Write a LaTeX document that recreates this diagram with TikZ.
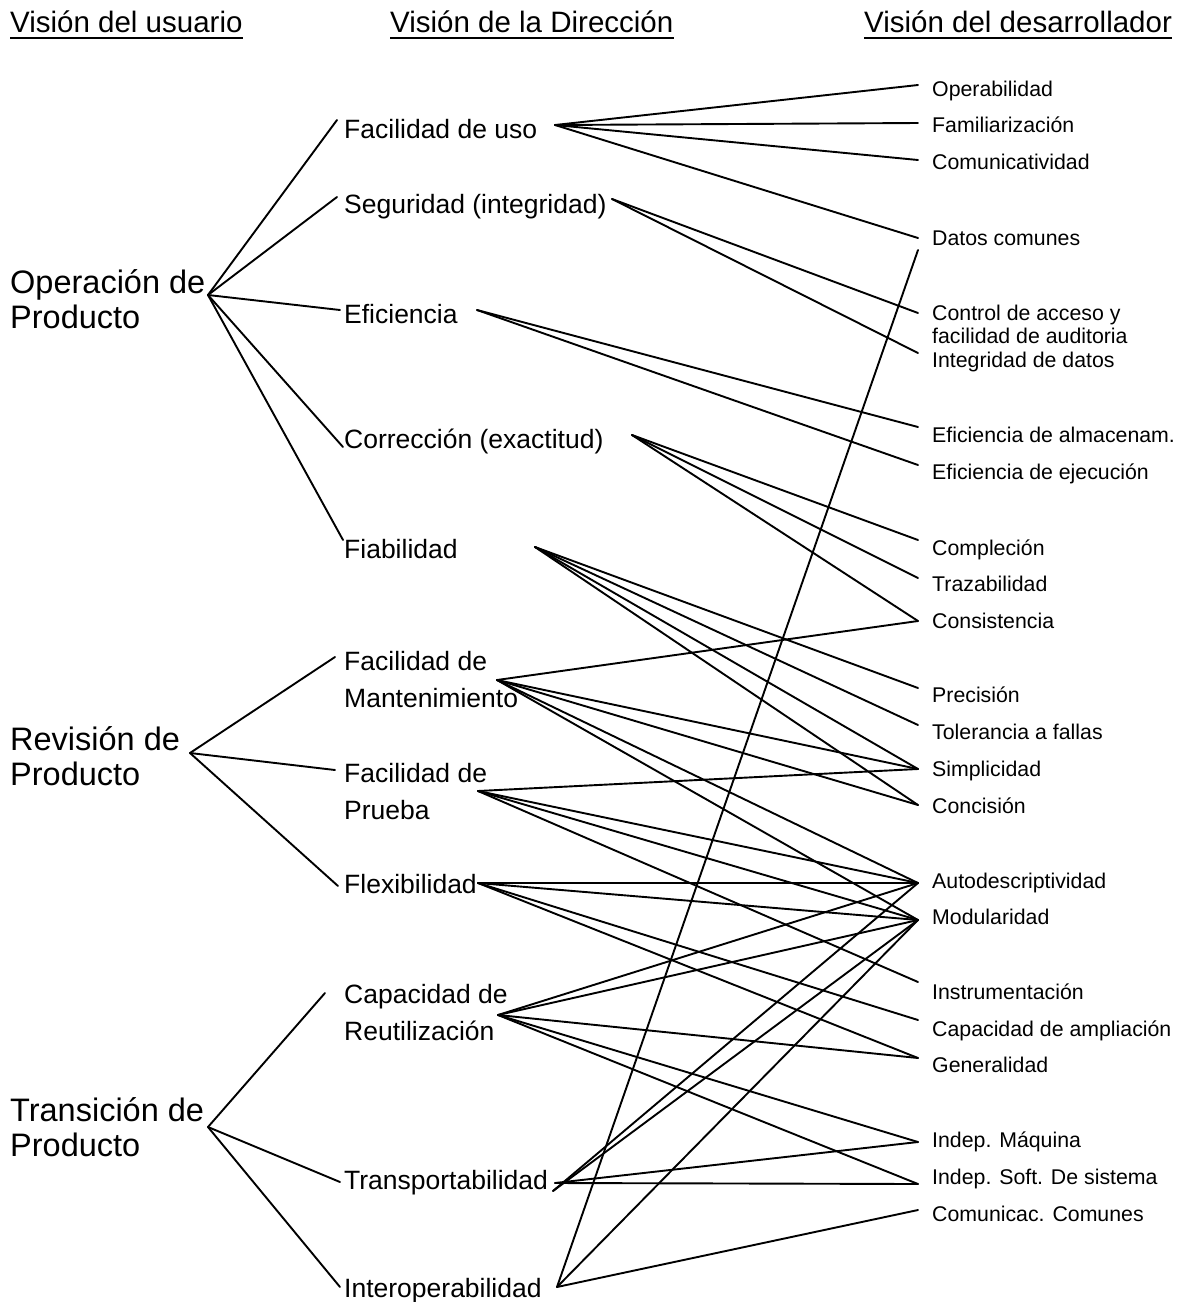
\documentclass[tikz,border=0pt]{standalone}
\usepackage{fontspec}
\setmainfont{Liberation Sans}
\begin{document}
\begin{tikzpicture}[x=1pt,y=-1pt,
  hdr/.style={anchor=base west, inner sep=0pt, font=\fontsize{29.5}{32}\selectfont, text depth=6pt},
  usr/.style={anchor=base west, inner sep=0pt, align=left, font=\fontsize{32.5}{34.5}\selectfont},
  mgr/.style={anchor=base west, inner sep=0pt, align=left, font=\fontsize{26.5}{36.5}\selectfont},
  dev/.style={anchor=base west, inner sep=0pt, align=left, font=\fontsize{21.3}{23}\selectfont},
  link/.style={line width=1.9pt, line cap=round},
  uline/.style={line width=2pt}]
\fill[white] (0,0) rectangle (1187,1302);
\useasboundingbox (0,0) rectangle (1187,1302);

% headers
\node[hdr] (h1) at (10,32) {Visión del usuario};
\node[hdr] (h2) at (390,32) {Visión de la Dirección};
\node[hdr] (h3) at (864,32) {Visión del desarrollador};
\draw[uline] (h1.south west) -- (h1.south east);
\draw[uline] (h2.south west) -- (h2.south east);
\draw[uline] (h3.south west) -- (h3.south east);

% user view (base anchor = last line)
\node[usr] (op) at (10,328) {Operación de\\Producto};
\node[usr] (rev) at (10,785) {Revisión de\\Producto};
\node[usr] (tran) at (10,1156) {Transición de\\Producto};
\coordinate (op-hub) at ([shift={(198,-33)}]op.base west);
\coordinate (rev-hub) at ([shift={(180,-32)}]rev.base west);
\coordinate (tran-hub) at ([shift={(198,-29)}]tran.base west);

% management view
\node[mgr] (fu) at (344,138) {Facilidad de uso};
\node[mgr] (seg) at (344,213) {Seguridad (integridad)};
\node[mgr] (efi) at (344,323) {Eficiencia};
\node[mgr] (cor) at (344,448) {Corrección (exactitud)};
\node[mgr] (fia) at (344,558) {Fiabilidad};
\node[mgr] (man) at (344,707) {Facilidad de\\Mantenimiento};
\node[mgr] (pru) at (344,819) {Facilidad de\\Prueba};
\node[mgr] (fle) at (344,893) {Flexibilidad};
\node[mgr] (reu) at (344,1040) {Capacidad de\\Reutilización};
\node[mgr] (tra) at (344,1189) {Transportabilidad};
\node[mgr] (int) at (344,1297) {Interoperabilidad};

\coordinate (fu-in) at ([shift={(-7,-18)}]fu.base west);
\coordinate (fu-out) at ([shift={(211,-13)}]fu.base west);
\coordinate (seg-in) at ([shift={(-7,-16)}]seg.base west);
\coordinate (seg-out) at ([shift={(268,-14)}]seg.base west);
\coordinate (efi-in) at ([shift={(-4,-13)}]efi.base west);
\coordinate (efi-out) at ([shift={(133,-13)}]efi.base west);
\coordinate (cor-in) at ([shift={(-1,-1)}]cor.base west);
\coordinate (cor-out) at ([shift={(288,-13)}]cor.base west);
\coordinate (fia-in) at ([shift={(-1,-18)}]fia.base west);
\coordinate (fia-out) at ([shift={(191,-11)}]fia.base west);
\coordinate (man-in) at ([shift={(-9,-50)}]man.base west);
\coordinate (man-out) at ([shift={(153,-27)}]man.base west);
\coordinate (pru-in) at ([shift={(-9,-49)}]pru.base west);
\coordinate (pru-out) at ([shift={(134,-28)}]pru.base west);
\coordinate (fle-in) at ([shift={(-6,-7)}]fle.base west);
\coordinate (fle-out) at ([shift={(134,-10)}]fle.base west);
\coordinate (reu-in) at ([shift={(-19,-47)}]reu.base west);
\coordinate (reu-out) at ([shift={(154,-25)}]reu.base west);
\coordinate (tra-in) at ([shift={(-4,-7)}]tra.base west);
\coordinate (tra-out) at ([shift={(211,-6)}]tra.base west);
\coordinate (tra-out2) at ([shift={(209,2)}]tra.base west);
\coordinate (int-in) at ([shift={(-4,-10)}]int.base west);
\coordinate (int-out) at ([shift={(213,-10)}]int.base west);

% developer view
\node[dev] (oper) at (932,96) {Operabilidad};
\node[dev] (fami) at (932,132) {Familiarización};
\node[dev] (comu) at (932,169) {Comunicatividad};
\node[dev] (datos) at (932,245) {Datos comunes};
\node[dev] (ctrl) at (932,343) {Control de acceso y\\facilidad de auditoria};
\node[dev] (integ) at (932,367) {Integridad de datos};
\node[dev] (efal) at (932,442) {Eficiencia de almacenam.};
\node[dev] (efej) at (932,479) {Eficiencia de ejecución};
\node[dev] (compl) at (932,555) {Compleción};
\node[dev] (traz) at (932,591) {Trazabilidad};
\node[dev] (cons) at (932,628) {Consistencia};
\node[dev] (prec) at (932,702) {Precisión};
\node[dev] (tol) at (932,739) {Tolerancia a fallas};
\node[dev] (simp) at (932,776) {Simplicidad};
\node[dev] (conc) at (932,813) {Concisión};
\node[dev] (auto) at (932,888) {Autodescriptividad};
\node[dev] (modu) at (932,924) {Modularidad};
\node[dev] (instr) at (932,999) {Instrumentación};
\node[dev] (capam) at (932,1036) {Capacidad de ampliación};
\node[dev] (gen) at (932,1072) {Generalidad};
\node[dev] (indm) at (932,1147) {Indep. Máquina};
\node[dev] (inds) at (932,1184) {Indep. Soft. De sistema};
\node[dev] (comc) at (932,1221) {Comunicac. Comunes};

\foreach \n/\dy in {oper/-11,fami/-9,comu/-9,datos/-7,ctrl/-30,integ/-14,efal/-15,efej/-14,
  compl/-15,traz/-13,cons/-7,prec/-14,tol/-14,simp/-7,conc/-8,auto/-5,modu/-4,
  instr/-17,capam/-16,gen/-14,indm/-5,inds/0,comc/-11}
  \coordinate (\n-e) at ([shift={(-14,\dy)}]\n.base west);
\coordinate (datos-e2) at ([shift={(-14,5)}]datos.base west);

% user -> management
\foreach \a/\b in {op-hub/fu-in, op-hub/seg-in, op-hub/efi-in, op-hub/cor-in, op-hub/fia-in,
  rev-hub/man-in, rev-hub/pru-in, rev-hub/fle-in,
  tran-hub/reu-in, tran-hub/tra-in, tran-hub/int-in}
  \draw[link] (\a) -- (\b);

% management -> developer
\foreach \a/\b in {fu-out/oper-e, fu-out/fami-e, fu-out/comu-e, fu-out/datos-e,
  seg-out/ctrl-e, seg-out/integ-e,
  efi-out/efal-e, efi-out/efej-e,
  cor-out/compl-e, cor-out/traz-e, cor-out/cons-e,
  fia-out/prec-e, fia-out/tol-e, fia-out/simp-e, fia-out/conc-e,
  man-out/cons-e, man-out/simp-e, man-out/conc-e, man-out/auto-e, man-out/modu-e,
  pru-out/simp-e, pru-out/auto-e, pru-out/modu-e, pru-out/instr-e,
  fle-out/auto-e, fle-out/modu-e, fle-out/capam-e, fle-out/gen-e,
  reu-out/auto-e, reu-out/modu-e, reu-out/gen-e, reu-out/indm-e, reu-out/inds-e,
  tra-out/indm-e, tra-out/inds-e, tra-out2/auto-e, tra-out2/modu-e,
  int-out/datos-e2, int-out/modu-e, int-out/comc-e}
  \draw[link] (\a) -- (\b);
\end{tikzpicture}
\end{document}
